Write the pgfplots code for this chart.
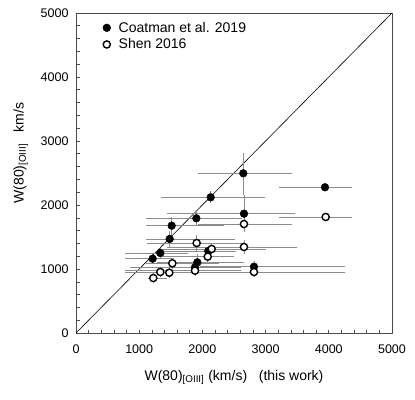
\documentclass[border=0pt]{standalone}
\usepackage{fontspec}
\setmainfont{Liberation Sans}
\usepackage{pgfplots}
\pgfplotsset{compat=1.18}
\usepackage{pgfplotstable}

% x y x- x+ y- y+
\pgfplotstableread{
x y exm exp eym eyp
2647 2495 685 739 300 290
2131 2120 750 833 60 60
3940 2277 700 395 0 0
2658 1864 1190 780 150 256
1904 1792 760 690 80 80
1514 1677 370 800 200 100
1482 1469 340 1000 100 100
1334 1250 530 400 50 50
1213 1161 400 300 50 50
2094 1281 700 400 50 50
1920 1104 600 700 100 100
1883 1027 1000 700 50 50
2816 1036 830 1410 50 50
}\coatman

\pgfplotstableread{
x y exm exp eym eyp
2658 1703 700 730 100 100
2658 1344 1190 800 80 80
3951 1813 700 385 0 0
2147 1313 760 820 50 50
1909 1406 760 690 100 100
1524 1089 380 700 50 50
1476 942 330 1000 50 50
1334 953 530 400 50 50
1223 859 50 190 50 50
2084 1193 700 380 50 50
1883 974 1070 690 50 50
2816 953 830 1410 50 50
}\shen

\begin{document}
\begin{tikzpicture}
\begin{axis}[
  at={(0,0)}, anchor=south west,
  scale only axis, width=316pt, height=320pt,
  xmin=0, xmax=5000, ymin=0, ymax=5000,
  xtick={0,1000,...,5000}, ytick={0,1000,...,5000},
  minor x tick num=4, minor y tick num=4,
  xtick pos=bottom, ytick pos=left,
  tick align=inside,
  major tick length=3.5pt, minor tick length=3.5pt,
  tick style={black!70, line width=0.6pt},
  axis line style={black!70, line width=0.8pt},
  /pgf/number format/assume math mode=true,
  /pgf/number format/set thousands separator={},
  tick label style={font=\fontsize{12.5}{14}\selectfont},
  xticklabel style={yshift=-8pt},
  yticklabel style={xshift=-4pt},
  label style={font=\fontsize{14}{16}\selectfont},
  xlabel={W(80)\textsubscript{[OIII]} (km/s)~~~(this work)},
  ylabel={W(80)\textsubscript{[OIII]}~~~km/s},
  xlabel style={yshift=-10pt},
  ylabel style={yshift=6pt, xshift=20pt},
  legend style={at={(0.075,0.985)}, anchor=north west, draw=none, fill=none,
    font=\fontsize{14}{16}\selectfont, row sep=1pt, column sep=6pt},
  legend cell align=left,
  error bars/error bar style={black!45, line width=0.8pt},
  error bars/error mark options={black!45, mark size=2pt, line width=0.8pt},
]
\addplot[black, line width=0.6pt, forget plot] coordinates {(0,0) (5000,5000)};

\addplot[draw=none, mark=none, forget plot,
  error bars/.cd, x dir=both, x explicit, y dir=both, y explicit]
  table[x=x, y=y, x error plus=exp, x error minus=exm, y error plus=eyp, y error minus=eym] {\coatman};
\addplot[draw=none, mark=none, forget plot,
  error bars/.cd, x dir=both, x explicit, y dir=both, y explicit]
  table[x=x, y=y, x error plus=exp, x error minus=exm, y error plus=eyp, y error minus=eym] {\shen};

\addplot[only marks, mark=*, mark size=3.9pt, mark options={fill=black, draw=black}]
  table[x=x, y=y] {\coatman};
\addlegendentry{Coatman et al. 2019}
\addplot[only marks, mark=*, mark size=3.6pt, mark options={fill=white, draw=black, line width=1.4pt}]
  table[x=x, y=y] {\shen};
\addlegendentry{Shen 2016}
\end{axis}
\path[use as bounding box] (-76pt,-66pt) rectangle (339pt,333pt);
\end{tikzpicture}
\end{document}
